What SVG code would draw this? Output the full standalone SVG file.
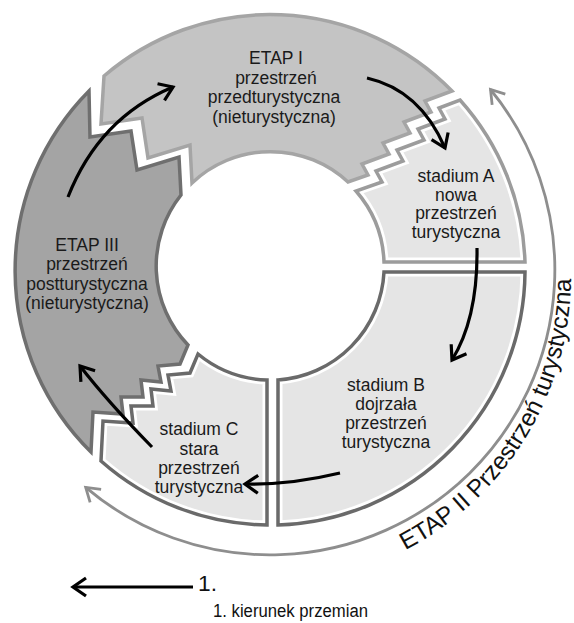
<svg xmlns="http://www.w3.org/2000/svg" xmlns:xlink="http://www.w3.org/1999/xlink" width="574" height="623" viewBox="0 0 574 623">
<style>
.lbl{font-family:"Liberation Sans",Arial,sans-serif;font-size:17.5px;fill:#1a1a1a;text-anchor:middle}
.arr{fill:none;stroke:#000;stroke-width:3.2;marker-end:url(#ah)}
.band{fill:#e5e5e5;stroke:#fff;stroke-width:9}
</style>
<defs>
<marker id="ah" viewBox="-18 -12 22 24" refX="0" refY="0" markerWidth="22" markerHeight="24" markerUnits="userSpaceOnUse" orient="auto" overflow="visible">
<path d="M-13,-9 L0,0 L-13,9" fill="none" stroke="#000" stroke-width="3.2"/>
</marker>
<marker id="gh" viewBox="-18 -12 22 24" refX="0" refY="0" markerWidth="22" markerHeight="24" markerUnits="userSpaceOnUse" orient="auto-start-reverse" overflow="visible">
<path d="M-13,-8.5 L0,0 L-13,8.5" fill="none" stroke="#8e8e8e" stroke-width="2.8"/>
</marker>
<path id="pA" d="M460,100 A255,255 0 0 1 525,262 L384,262 A114,114 0 0 0 356,191 L382,182 L376,171 L403,161 L397,150 L424,140 L418,129 L445,119 L439,108 Z"/>
<path id="pB" d="M384,272 L525,272 A255,255 0 0 1 278,525 L278,380 A114,114 0 0 0 384,272 Z"/>
<path id="pC" d="M267,380 L267,525 A255,255 0 0 1 101,461 L103,421 L133,423 L131,406 L153,406 L151,389 L171,391 L168,375 L190,373 L198,354 A114,114 0 0 0 267,380 Z"/>
<clipPath id="cA"><use href="#pA"/></clipPath>
<clipPath id="cB"><use href="#pB"/></clipPath>
<clipPath id="cC"><use href="#pC"/></clipPath>
<path id="tp" d="M405.2,550.2 A308,308 0 0 0 566.3,223.5"/>
</defs>

<g id="etap-1">
<path d="M104,76 A255,255 0 0 1 452,91 L425,101 L431,112 L404,122 L410,133 L383,143 L389,154 L362,164 L368,175 L348,182 A114,114 0 0 0 192,183 L190,145 L148,158 L142,118 L101,124 Z" fill="#c4c4c4" stroke="#a5a5a5" stroke-width="3.5" stroke-linejoin="miter"/>
<text class="lbl" x="276" y="64">ETAP I</text>
<text class="lbl" x="276" y="83.5">przestrzeń</text>
<text class="lbl" x="274" y="103">przedturystyczna</text>
<text class="lbl" x="274" y="122.5">(nieturystyczna)</text>
</g>

<g id="stadium-a">
<use href="#pA" class="band" clip-path="url(#cA)"/>
<use href="#pA" fill="none" stroke="#9c9c9c" stroke-width="3.5"/>
<text class="lbl" x="456" y="182">stadium A</text>
<text class="lbl" x="456" y="200.5">nowa</text>
<text class="lbl" x="456" y="219">przestrzeń</text>
<text class="lbl" x="456" y="237.5">turystyczna</text>
</g>

<g id="stadium-b">
<use href="#pB" class="band" clip-path="url(#cB)"/>
<use href="#pB" fill="none" stroke="#6a6a6a" stroke-width="3.5"/>
<text class="lbl" x="386" y="391">stadium B</text>
<text class="lbl" x="386" y="410">dojrzała</text>
<text class="lbl" x="386" y="429">przestrzeń</text>
<text class="lbl" x="386" y="448">turystyczna</text>
</g>

<g id="stadium-c">
<use href="#pC" class="band" clip-path="url(#cC)"/>
<use href="#pC" fill="none" stroke="#6a6a6a" stroke-width="3.5"/>
<text class="lbl" x="199" y="435">stadium C</text>
<text class="lbl" x="199" y="454.5">stara</text>
<text class="lbl" x="199" y="474">przestrzeń</text>
<text class="lbl" x="199" y="493">turystyczna</text>
</g>

<g id="etap-3">
<path d="M91,452 A255,255 0 0 1 89,91 L90,137 L131,131 L137,170 L179,157 L181,195 A114,114 0 0 0 188,345 L180,364 L158,366 L161,382 L141,380 L143,397 L121,397 L123,414 L93,412 Z" fill="#a4a4a4" stroke="#6f6f6f" stroke-width="3.5"/>
<text class="lbl" x="87" y="250.5">ETAP III</text>
<text class="lbl" x="87" y="270">przestrzeń</text>
<text class="lbl" x="87" y="289.5">postturystyczna</text>
<text class="lbl" x="87" y="309">(nieturystyczna)</text>
</g>

<g id="etap-2">
<path d="M85.7,487.4 A285,285 0 0 0 490.5,89.5" fill="none" stroke="#8e8e8e" stroke-width="2.8" marker-start="url(#gh)" marker-end="url(#gh)"/>
<text font-family="'Liberation Sans',Arial,sans-serif" font-size="24.3" fill="#111"><textPath href="#tp">ETAP II Przestrzeń turystyczna</textPath></text>
</g>

<g id="connectors">
<path class="arr" d="M68,197 Q99,118 173,87"/>
<path class="arr" d="M367,78 Q420,90 445,148"/>
<path class="arr" d="M477,248 Q478,318 452,360"/>
<path class="arr" d="M340,473 Q290,485 245,484"/>
<path class="arr" d="M152,447 Q108,402 80,366"/>
</g>

<g id="legend">
<path class="arr" d="M193,587 L73,587"/>
<text x="198" y="591" font-family="'Liberation Sans',Arial,sans-serif" font-size="22" fill="#111" textLength="19" lengthAdjust="spacingAndGlyphs">1.</text>
<text x="213" y="617" font-family="'Liberation Sans',Arial,sans-serif" font-size="18" fill="#111" textLength="155" lengthAdjust="spacingAndGlyphs">1. kierunek przemian</text>
</g>
</svg>
